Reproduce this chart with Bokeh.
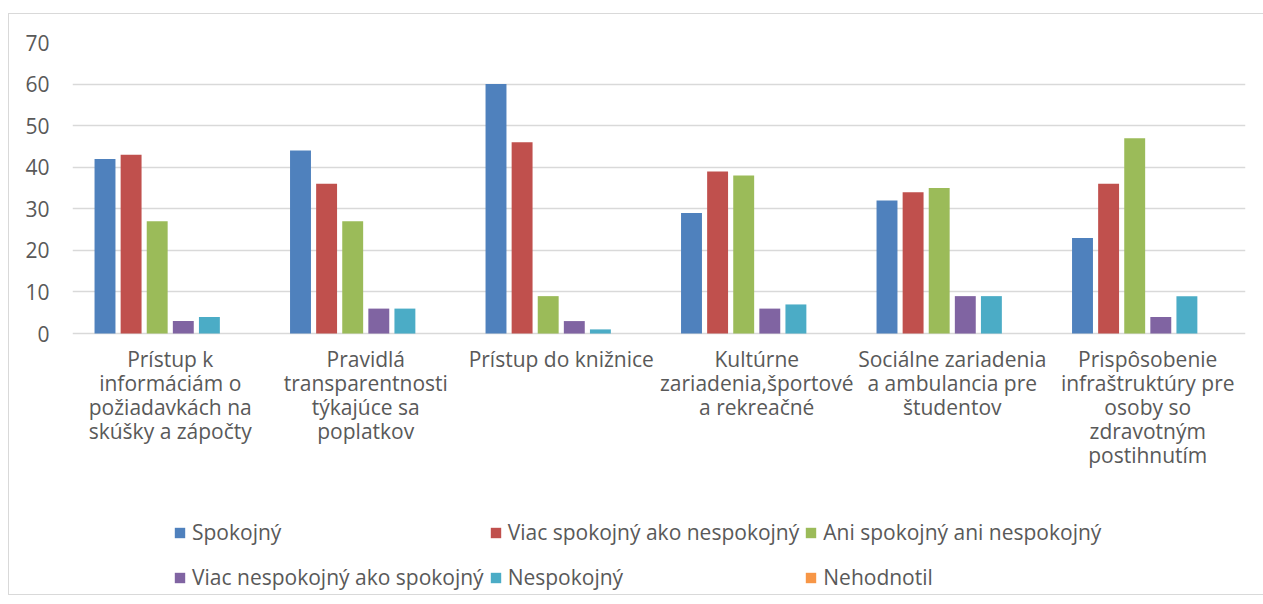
from bokeh.plotting import figure
from bokeh.models import (ColumnDataSource, Range1d, FactorRange, FixedTicker,
                          Legend, LegendItem)
from bokeh.core.properties import value
from bokeh.transform import dodge
from bokeh.embed import file_html
from bokeh.resources import INLINE

categories = [
    "Prístup k\ninformáciám o\npožiadavkách na\nskúšky a zápočty",
    "Pravidlá\ntransparentnosti\ntýkajúce sa\npoplatkov",
    "Prístup do knižnice",
    "Kultúrne\nzariadenia,športové\na rekreačné",
    "Sociálne zariadenia\na ambulancia pre\nštudentov",
    "Prispôsobenie\ninfraštruktúry pre\nosoby so\nzdravotným\npostihnutím",
]
series_names = [
    "Spokojný",
    "Viac spokojný ako nespokojný",
    "Ani spokojný ani nespokojný",
    "Viac nespokojný ako spokojný",
    "Nespokojný",
    "Nehodnotil",
]
spokojny = [42, 44, 60, 29, 32, 23]
viac_spokojny = [43, 36, 46, 39, 34, 36]
ani = [27, 27, 9, 38, 35, 47]
viac_nespokojny = [3, 6, 3, 6, 9, 4]
nespokojny = [4, 6, 1, 7, 9, 9]
nehodnotil = [0, 0, 0, 0, 0, 0]
y_ticks = [0, 10, 20, 30, 40, 50, 60, 70]

colors = ["#4F81BD", "#C0504D", "#9BBB59", "#8064A2", "#4BACC6", "#F79646"]
keys = ["s0", "s1", "s2", "s3", "s4", "s5"]
values = [spokojny, viac_spokojny, ani, viac_nespokojny, nespokojny, nehodnotil]

data = {"cat": categories, "base": [0] * len(categories)}
for k, v in zip(keys, values):
    data[k] = v
source = ColumnDataSource(data)

FONT = "Open Sans"
FS = "21px"
TXT = "#595959"

# layout geometry (pixels)
H = 582
TOP = 28
PLOT_PX = 290            # height of the 0..70 value band
frame_px = H - 2 - TOP   # frame extends to the bottom of the figure
y_max = y_ticks[-1]
y_min = -(frame_px - PLOT_PX) / PLOT_PX * y_max

p = figure(x_range=FactorRange(*categories, range_padding=0),
           y_range=Range1d(y_min, y_max),
           width=1255, height=H, output_backend="svg",
           toolbar_location=None, min_border_left=63, min_border_right=19,
           min_border_top=TOP, min_border_bottom=0)
p.styles = {"margin-top": "13px", "margin-left": "8px",
            "border-top": "1px solid #d9d9d9",
            "border-left": "1px solid #d9d9d9",
            "border-bottom": "1px solid #d9d9d9"}
p.outline_line_color = None
p.background_fill_color = "white"
p.border_fill_color = "white"

slot = 0.1335
bw = 0.107
renderers = []
for i, k in enumerate(keys):
    r = p.vbar(x=dodge("cat", (i - 2.5) * slot, range=p.x_range), top=k,
               width=bw, source=source, fill_color=colors[i], line_color=None)
    renderers.append(r)

p.ygrid.ticker = FixedTicker(ticks=y_ticks)
p.ygrid.grid_line_color = "#d9d9d9"
p.ygrid.grid_line_width = 1.3
p.xgrid.grid_line_color = None
p.xaxis.visible = False

p.yaxis.ticker = FixedTicker(ticks=y_ticks)
p.yaxis.axis_line_color = None
p.yaxis.major_tick_line_color = None
p.yaxis.minor_tick_line_color = None
p.yaxis.major_tick_out = 0
p.yaxis.minor_tick_out = 0
p.yaxis.major_label_standoff = 23
p.yaxis.major_label_text_font = FONT
p.yaxis.major_label_text_font_size = FS
p.yaxis.major_label_text_color = TXT

# category labels under the groups
p.text(x="cat", y="base", text="cat", source=source, y_offset=11,
       text_align="center", text_baseline="top",
       text_font=value(FONT), text_font_size=FS, text_color=TXT,
       text_line_height=0.86)

legend = Legend(items=[LegendItem(label=series_names[i], renderers=[r])
                       for i, r in enumerate(renderers)],
                orientation="horizontal", ncols=3,
                location=(101, -1),
                glyph_width=13, glyph_height=13, label_standoff=6,
                label_width=280, label_height=40, spacing=5,
                padding=0, margin=0, border_line_color=None,
                background_fill_alpha=0,
                label_text_font=FONT, label_text_font_size=FS,
                label_text_color=TXT)
p.add_layout(legend, "center")

open("out.html", "w").write(file_html(p, INLINE))
